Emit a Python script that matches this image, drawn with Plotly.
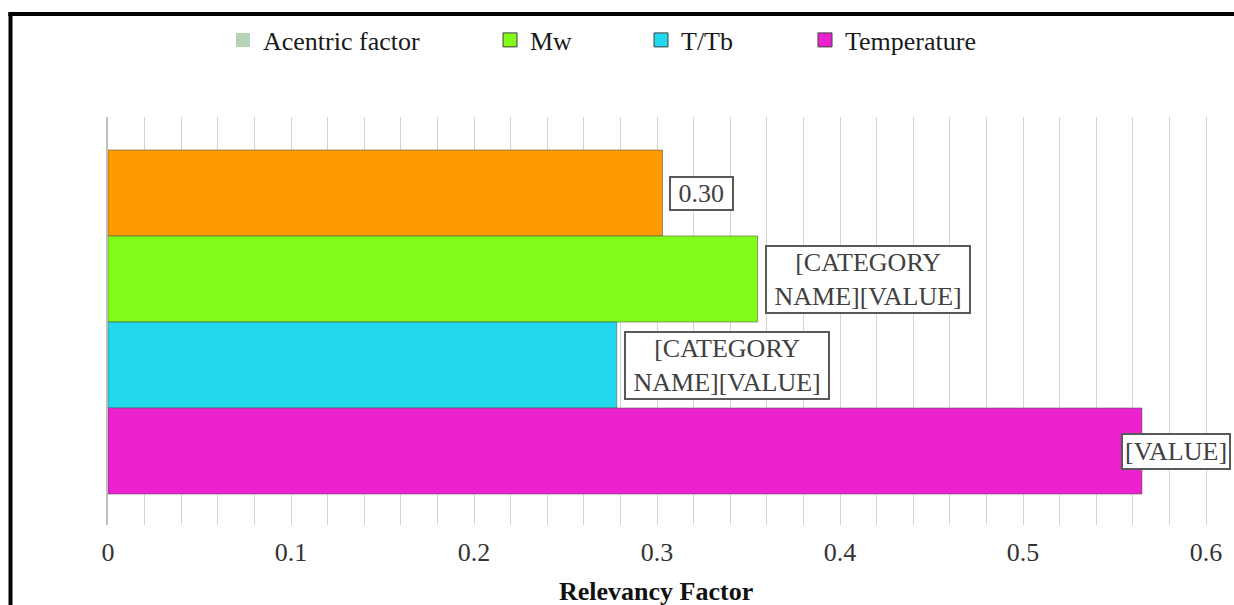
import plotly.graph_objects as go

# ---- data ----
series = ["Acentric factor", "Mw", "T/Tb", "Temperature"]
values = [0.303, 0.355, 0.278, 0.565]
bar_colors = ["#ff9a00", "#80fc18", "#22d8ec", "#ec22cf"]
legend_colors = ["#b8d3b5", "#80fc18", "#22d8ec", "#ec22cf"]
label_texts = [f"{values[0]:.2f}", "[CATEGORY<br>NAME][VALUE]", "[CATEGORY<br>NAME][VALUE]", "[VALUE]"]
tick_vals = [0, 0.1, 0.2, 0.3, 0.4, 0.5, 0.6]
tick_labels = ["0", "0.1", "0.2", "0.3", "0.4", "0.5", "0.6"]
axis_title = "Relevancy Factor"

FONT = "Liberation Serif, Times New Roman, serif"
W, H = 1234, 605
ML, MR, MT, MB = 108, 0, 117, 80
PW, PH = W - ML - MR, H - MT - MB

fig = go.Figure()
n = len(series)
positions = [n - 1 - i for i in range(n)]

for i in range(n):
    fig.add_trace(go.Bar(
        x=[values[i]], y=[positions[i]], orientation="h", width=1,
        marker=dict(color=bar_colors[i], line=dict(color="rgba(80,80,80,0.55)", width=1)),
        showlegend=False, hoverinfo="x", name=series[i],
    ))

# legend entries (separate legends for Excel-like spacing)
legend_left_px = [223, 490, 641, 805]
legend_line = ["rgba(0,0,0,0)", "#404040", "#404040", "#404040"]
for i in range(n):
    key = "legend" if i == 0 else f"legend{i+1}"
    fig.add_trace(go.Scatter(
        x=[None], y=[None], mode="markers", name=series[i], legend=key,
        marker=dict(symbol="square", size=14, color=legend_colors[i],
                    line=dict(color=legend_line[i], width=1)),
    ))

legend_layouts = {}
for i in range(n):
    key = "legend" if i == 0 else f"legend{i+1}"
    legend_layouts[key] = dict(
        x=(legend_left_px[i] - ML) / PW, y=(MT + PH - 40) / PH,
        xanchor="left", yanchor="middle", orientation="h",
        bgcolor="rgba(0,0,0,0)", font=dict(family=FONT, size=26, color="#1a1a1a"),
    )

annotations = []
for i in range(n):
    txt = "<br>".join("\u00a0" + s + "\u00a0" for s in label_texts[i].split("<br>"))
    if i == n - 1:
        annotations.append(dict(
            x=(1231 - ML) / PW, xref="paper", xanchor="right",
            y=positions[i], yref="y", yanchor="middle",
            text=label_texts[i], showarrow=False,
            font=dict(family=FONT, size=26, color="#404040"),
            bgcolor="white", bordercolor="#595959", borderwidth=2, borderpad=2,
        ))
    else:
        annotations.append(dict(
            x=values[i], xref="x", xanchor="left", xshift=7,
            y=positions[i], yref="y", yanchor="middle",
            text=txt, showarrow=False,
            font=dict(family=FONT, size=26, color="#404040"),
            bgcolor="white", bordercolor="#595959", borderwidth=2, borderpad=1,
        ))

annotations.append(dict(
    x=(656 - ML) / PW, xref="paper", xanchor="center",
    y=(MT + PH - 591) / PH, yref="paper", yanchor="middle",
    text=f"<b>{axis_title}</b>", showarrow=False,
    font=dict(family=FONT, size=26, color="#111111"),
))

left_x = (10.5 - ML) / PW
top_y = (MT + PH - 14) / PH
shapes = [
    dict(type="line", xref="paper", yref="paper", x0=left_x, x1=left_x, y0=-0.5, y1=top_y,
         line=dict(color="black", width=4)),
    dict(type="line", xref="paper", yref="paper", x0=left_x - 0.002, x1=1.1, y0=top_y, y1=top_y,
         line=dict(color="black", width=4)),
]

fig.update_layout(
    width=W, height=H, autosize=False,
    margin=dict(l=ML, r=MR, t=MT, b=MB, pad=0),
    paper_bgcolor="white", plot_bgcolor="white",
    barmode="overlay", showlegend=True,
    annotations=annotations, shapes=shapes,
    **legend_layouts,
)
fig.update_xaxes(
    range=[0, PW / 1830], tickvals=tick_vals, ticktext=tick_labels,
    showgrid=True, gridcolor="#d4d4d4", gridwidth=1, zeroline=False,
    minor=dict(dtick=0.02, tick0=0, showgrid=True, gridcolor="#d4d4d4", gridwidth=1),
    tickfont=dict(family=FONT, size=26, color="#333333"), ticks="", showline=False,
    ticklabelstandoff=9,
)
fig.update_yaxes(
    range=[-0.5 - 31 / 86, n - 0.5 + 33 / 86], showticklabels=False, showgrid=False,
    zeroline=False, showline=True, linecolor="#bfbfbf", linewidth=2, ticks="",
)

fig.write_html("out.html")
